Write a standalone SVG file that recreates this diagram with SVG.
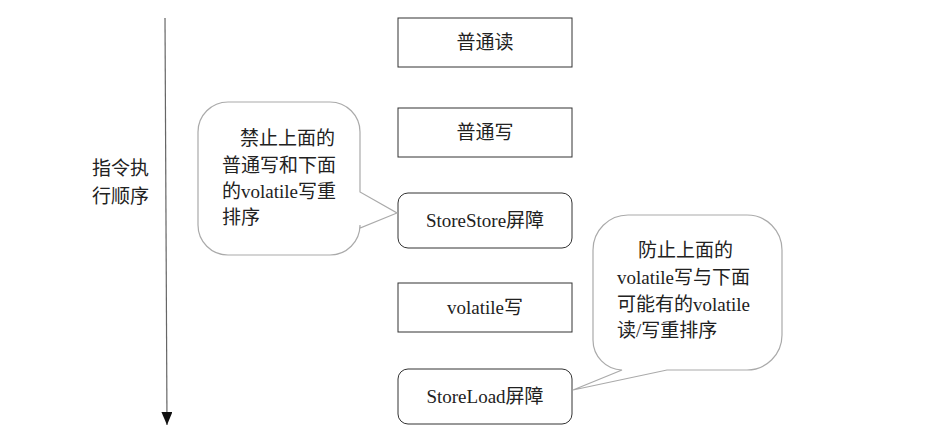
<svg xmlns="http://www.w3.org/2000/svg" width="938" height="447" viewBox="0 0 938 447">
<style>
.t{font-family:"Liberation Serif","Noto Sans CJK SC",serif;font-size:19px;fill:#222}
.c{text-anchor:middle}
.box{fill:#fff;stroke:#333;stroke-width:1}
.bub{fill:#fff;stroke:#aaa;stroke-width:1.2}
</style>
<defs>
<marker id="ah" markerWidth="13" markerHeight="11" refX="13" refY="5.5" orient="auto" markerUnits="userSpaceOnUse">
<path d="M0,0 L13,5.5 L0,11 Z" fill="#111"/>
</marker>
</defs>
<rect width="938" height="447" fill="#fff"/>
<g id="connectors">
<line x1="165" y1="18" x2="167" y2="425" stroke="#666" stroke-width="1.2" marker-end="url(#ah)"/>
</g>
<g id="label">
<text class="t" x="92" y="175">指令执</text>
<text class="t" x="92" y="203">行顺序</text>
</g>
<g id="n1"><rect class="box" x="398" y="18" width="174" height="49"/><text class="t c" x="485" y="49">普通读</text></g>
<g id="n2"><rect class="box" x="398" y="108" width="174" height="49"/><text class="t c" x="485" y="139">普通写</text></g>
<g id="n3"><rect class="box" x="398" y="193" width="174" height="55" rx="10"/><text class="t c" x="485" y="227">StoreStore屏障</text></g>
<g id="n4"><rect class="box" x="398" y="283" width="174" height="49"/><text class="t c" x="485" y="314">volatile写</text></g>
<g id="n5"><rect class="box" x="398" y="369" width="174" height="55" rx="10"/><text class="t c" x="485" y="403">StoreLoad屏障</text></g>
<g id="bubble1">
<path class="bub" d="M228,102 H330 A30,30 0 0 1 360,132 V192 L397,213 L360,228 V225 A30,30 0 0 1 330,255 H228 A30,30 0 0 1 198,225 V132 A30,30 0 0 1 228,102 Z"/>
<text class="t" x="240" y="145">禁止上面的</text>
<text class="t" x="222" y="172">普通写和下面</text>
<text class="t" x="222" y="198">的volatile写重</text>
<text class="t" x="222" y="224">排序</text>
</g>
<g id="bubble2">
<path class="bub" d="M628,215 H747 A35,35 0 0 1 782,250 V335 A35,35 0 0 1 747,370 H667 L573,390 L622,370 A30,30 0 0 1 593,340 V250 A35,35 0 0 1 628,215 Z"/>
<text class="t" x="638" y="257">防止上面的</text>
<text class="t" x="617" y="284">volatile写与下面</text>
<text class="t" x="617" y="311">可能有的volatile</text>
<text class="t" x="617" y="337">读/写重排序</text>
</g>
</svg>
